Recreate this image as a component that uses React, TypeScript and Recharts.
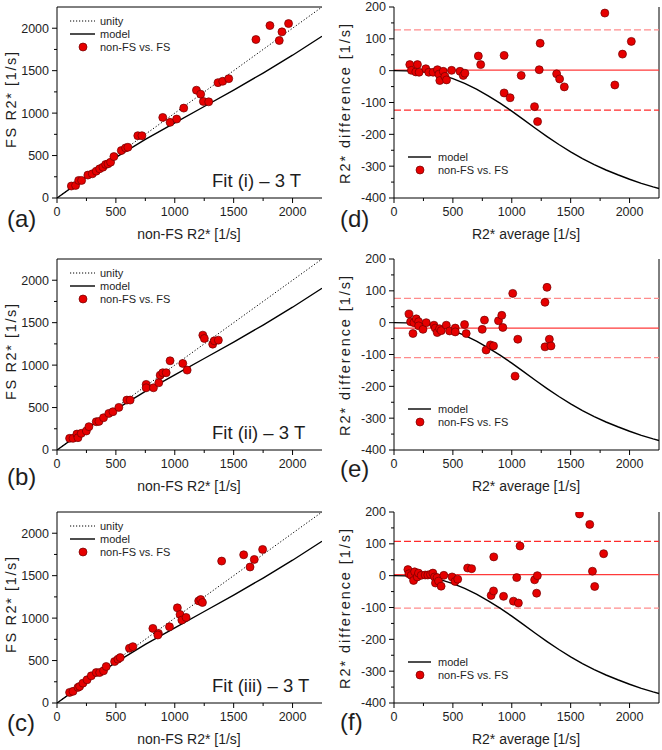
import React from "react";
import { ScatterChart, Scatter, XAxis, YAxis, ReferenceLine, Legend } from "recharts";

const FONT = "'Liberation Sans', Arial, Helvetica, sans-serif";
const TEXT = "#1e1e1e";
const RED = "#e60000";
const RED_EDGE = "#700000";

// ---- axis ticks ----
const xMajorTicks = [0, 500, 1000, 1500, 2000];
const xMinorTicks = [250, 750, 1250, 1750];
const fsMajorTicks = [0, 500, 1000, 1500, 2000];
const fsMinorTicks = [250, 750, 1250, 1750];
const diffMajorTicks = [-400, -300, -200, -100, 0, 100, 200];
const diffMinorTicks = [-350, -250, -150, -50, 50, 150];
const axisMax = 2250;
const diffMin = -400;
const diffMax = 200;

// ---- reference lines / model ----
const unityNonFS = [0, 2250];
const unityFS = [0, 2250];
const modelNonFS = [0, 250, 500, 750, 1000, 1250, 1500, 1750, 2000, 2250];
const modelFS = [0, 248, 478, 690, 886, 1078, 1272, 1472, 1682, 1905];
const baModelAvg = [0, 100, 200, 300, 400, 500, 600, 700, 800, 900, 1000, 1100, 1200, 1300, 1400, 1500, 1600, 1700, 1800, 1900, 2000, 2100, 2200, 2250];
const baModelDiff = [0, -0.5, -2, -6, -13, -25, -40, -58, -79, -102, -127, -154, -181, -207, -232, -255, -276, -295, -312, -327, -341, -354, -365, -370];

// ---- panel (a) ----
const aNonFS = [122, 158, 184, 209, 262, 300, 333, 362, 390, 413, 433, 455, 483, 546, 582, 602, 686, 721, 898, 960, 1016, 1076, 1184, 1220, 1243, 1288, 1367, 1407, 1458, 1689, 1808, 1887, 1910, 1966];
const aFS = [141, 148, 207, 207, 270, 285, 316, 344, 363, 395, 402, 422, 488, 559, 590, 598, 734, 734, 949, 891, 930, 1059, 1270, 1223, 1137, 1133, 1359, 1375, 1406, 1867, 2031, 1855, 1957, 2055];

// ---- panel (b) ----
const bNonFS = [107, 136, 169, 178, 206, 249, 271, 333, 356, 395, 440, 475, 525, 593, 621, 757, 757, 819, 864, 876, 898, 927, 960, 1068, 1105, 1238, 1251, 1322, 1336, 1370];
const bFS = [137, 137, 188, 145, 196, 224, 275, 333, 337, 380, 431, 451, 502, 588, 588, 773, 733, 733, 792, 882, 910, 910, 1051, 1020, 941, 1353, 1314, 1247, 1286, 1294];

// ---- panel (c) ----
const cNonFS = [107, 136, 178, 192, 220, 255, 291, 333, 362, 395, 418, 489, 517, 537, 615, 644, 814, 861, 856, 955, 1022, 1045, 1060, 1096, 1203, 1220, 1235, 1398, 1585, 1639, 1675, 1746];
const cFS = [125, 137, 184, 195, 234, 273, 320, 359, 359, 379, 430, 488, 516, 535, 645, 664, 879, 820, 801, 898, 1121, 1043, 977, 1008, 1203, 1219, 1184, 1672, 1746, 1602, 1691, 1809];

// ---- panel (d) ----
const dAvg = [134, 148, 185, 199, 213, 270, 295, 332, 369, 381, 389, 418, 432, 446, 489, 560, 588, 602, 716, 736, 935, 935, 986, 1080, 1193, 1219, 1233, 1241, 1381, 1406, 1446, 1790, 1875, 1940, 2015];
const dDiff = [19, 1, -4, 19, -5, 6, -5, -5, 3, -11, -31, -2, -18, -29, 1, -2, -15, -8, 46, 19, 48, -70, -85, -15, -113, -160, 3, 86, -10, -26, -51, 181, -45, 52, 92];
const dMean = 2;
const dUpper = 128;
const dLower = -124;

// ---- panel (e) ----
const eAvg = [127, 141, 161, 169, 189, 209, 209, 246, 274, 339, 350, 367, 387, 401, 444, 472, 520, 520, 599, 613, 749, 768, 782, 819, 845, 887, 915, 924, 1008, 1028, 1051, 1282, 1299, 1282, 1319, 1333];
const eDiff = [27, 3, -34, 0, 12, 3, -10, -21, 0, -8, -17, -31, -19, -25, -8, -26, -17, -29, -6, -34, -21, 8, -86, -70, -73, 6, 23, -15, 92, -168, -52, 64, 111, -76, -52, -73];
const eMean = -17;
const eUpper = 76;
const eLower = -110;

// ---- panel (f) ----
const fAvg = [118, 127, 146, 166, 175, 197, 208, 231, 265, 287, 310, 330, 344, 352, 366, 378, 400, 423, 493, 518, 541, 625, 659, 825, 845, 847, 930, 1014, 1042, 1056, 1070, 1194, 1211, 1217, 1575, 1662, 1704, 1685, 1780];
const fDiff = [19, 6, 1, -15, 12, -4, 8, 1, 2, 2, 4, 8, -4, -23, -6, -17, -33, 1, -4, -18, -11, 24, 22, -62, -48, 59, -65, -80, -6, -86, 93, -13, -55, 0, 194, 161, -34, 14, 69];
const fMean = 3;
const fUpper = 108;
const fLower = -102;

const PINK = "#ff8c8c";
const DASH_RED = "#ff2a2a";
const MEAN_RED = "#ff3a3a";

const TICK_SIZE = 5;
const MINOR_SIZE = 3;
const X_MARGIN = 4;
const Y_MARGIN = 3;
const TICK_FONT = 12.5;

function zip(xs: number[], ys: number[]) {
  return xs.map((x, i) => ({ x, y: ys[i] }));
}

const RedDot = (props: any) => {
  if (props.cx == null || props.cy == null) return <g />;
  return <circle cx={props.cx} cy={props.cy} r={4} fill={RED} stroke={RED_EDGE} strokeWidth={0.7} />;
};
const NoShape = () => <g />;

const makeXTick = (majors: number[]) => (props: any) => {
  const { x, y, payload } = props;
  const v = payload.value;
  const major = majors.includes(v);
  const axisY = y - X_MARGIN - TICK_SIZE;
  return (
    <g>
      <line x1={x} x2={x} y1={axisY} y2={axisY + (major ? TICK_SIZE : MINOR_SIZE)} stroke="#000" strokeWidth={1} />
      {major && (
        <text x={x} y={y} dy="0.71em" textAnchor="middle" fontSize={TICK_FONT} fontFamily={FONT} fill={TEXT}>{v}</text>
      )}
    </g>
  );
};

const makeYTick = (majors: number[]) => (props: any) => {
  const { x, y, payload } = props;
  const v = payload.value;
  const major = majors.includes(v);
  const axisX = x + Y_MARGIN + TICK_SIZE;
  return (
    <g>
      <line x1={axisX} x2={axisX - (major ? TICK_SIZE : MINOR_SIZE)} y1={y} y2={y} stroke="#000" strokeWidth={1} />
      {major && (
        <text x={x} y={y} dy="0.355em" textAnchor="end" fontSize={TICK_FONT} fontFamily={FONT} fill={TEXT}>{v}</text>
      )}
    </g>
  );
};

const allX = [...xMajorTicks, ...xMinorTicks].sort((a, b) => a - b);
const allFS = [...fsMajorTicks, ...fsMinorTicks].sort((a, b) => a - b);
const allDiff = [...diffMajorTicks, ...diffMinorTicks].sort((a, b) => a - b);
const XTick = makeXTick(xMajorTicks);
const FSTick = makeYTick(fsMajorTicks);
const DiffTick = makeYTick(diffMajorTicks);

function ScatterLegend() {
  return (
    <svg width={120} height={40} style={{ display: "block", overflow: "visible" }}>
      <line x1={0} x2={25} y1={0} y2={0} stroke="#000" strokeWidth={1} strokeDasharray="1.2 1.8" />
      <text x={30} y={0} dominantBaseline="central" fontSize={11} fontFamily={FONT} fill={TEXT}>unity</text>
      <line x1={0} x2={25} y1={13} y2={13} stroke="#000" strokeWidth={1.4} />
      <text x={30} y={13} dominantBaseline="central" fontSize={11} fontFamily={FONT} fill={TEXT}>model</text>
      <circle cx={13} cy={26} r={4} fill={RED} stroke={RED_EDGE} strokeWidth={0.7} />
      <text x={30} y={26} dominantBaseline="central" fontSize={11} fontFamily={FONT} fill={TEXT}>non-FS vs. FS</text>
    </svg>
  );
}

function BALegend() {
  return (
    <svg width={120} height={30} style={{ display: "block", overflow: "visible" }}>
      <line x1={0} x2={23} y1={0} y2={0} stroke="#000" strokeWidth={1.4} />
      <text x={30} y={0} dominantBaseline="central" fontSize={11} fontFamily={FONT} fill={TEXT}>model</text>
      <circle cx={12} cy={13} r={4} fill={RED} stroke={RED_EDGE} strokeWidth={0.7} />
      <text x={30} y={13} dominantBaseline="central" fontSize={11} fontFamily={FONT} fill={TEXT}>non-FS vs. FS</text>
    </svg>
  );
}

type SPProps = { nonFS: number[]; fs: number[]; letter: string; fit: string; top: number; letterY: number };

function ScatterPanel({ nonFS, fs, letter, fit, top, letterY }: SPProps) {
  const pts = zip(nonFS, fs);
  const unity = zip(unityNonFS, unityFS);
  const model = zip(modelNonFS, modelFS);
  return (
    <div style={{ position: "absolute", left: 0, top, width: 331, height: 252 }}>
      <ScatterChart width={331} height={252} margin={{ top: 7, right: 9, bottom: 24, left: 0 }}>
        <XAxis xAxisId="main" type="number" dataKey="x" domain={[0, axisMax]} ticks={allX} interval={0} allowDataOverflow height={30} tickSize={TICK_SIZE} tickMargin={X_MARGIN} tickLine={false} stroke="#000" tick={XTick} />
        <YAxis yAxisId="main" type="number" dataKey="y" domain={[0, axisMax]} ticks={allFS} interval={0} allowDataOverflow width={57} tickSize={TICK_SIZE} tickMargin={Y_MARGIN} tickLine={false} stroke="#000" tick={FSTick} />
        <ReferenceLine xAxisId="main" yAxisId="main" y={axisMax} stroke="#000" strokeWidth={1} />
        <Scatter name="unity" xAxisId="main" yAxisId="main" data={unity} line={{ stroke: "#000", strokeWidth: 1, strokeDasharray: "1.2 2" }} shape={NoShape} isAnimationActive={false} />
        <Scatter name="model" xAxisId="main" yAxisId="main" data={model} line={{ stroke: "#000", strokeWidth: 1.4 }} shape={NoShape} isAnimationActive={false} />
        <Scatter name="non-FS vs. FS" xAxisId="main" yAxisId="main" data={pts} shape={RedDot} isAnimationActive={false} />
        <Legend layout="vertical" align="center" verticalAlign="middle" wrapperStyle={{ left: 70, top: 21, width: 120, height: 40 }} content={() => <ScatterLegend />} />
      </ScatterChart>
      <svg width={331} height={252} style={{ position: "absolute", left: 0, top: 0, pointerEvents: "none", overflow: "visible" }}>
        <text x={7} y={letterY} fontSize={24} fontFamily={FONT} fill={TEXT}>{letter}</text>
        <text x={189} y={239} textAnchor="middle" fontSize={14} fontFamily={FONT} fill={TEXT}>non-FS R2* [1/s]</text>
        <text x={11} y={100} transform="rotate(-90 11 100)" textAnchor="middle" dominantBaseline="central" fontSize={14.5} fontFamily={FONT} fill={TEXT} textLength={96} lengthAdjust="spacing">FS R2* [1/s]</text>
        <text x={212} y={187} fontSize={18.5} fontFamily={FONT} fill={TEXT}>{fit}</text>
      </svg>
    </div>
  );
}

type BAProps = {
  avg: number[]; diff: number[]; mean: number; upper: number; lower: number;
  upperColor: string; lowerColor: string; letter: string; top: number; letterY: number;
};

function BAPanel({ avg, diff, mean, upper, lower, upperColor, lowerColor, letter, top, letterY }: BAProps) {
  const pts = zip(avg, diff);
  const model = zip(baModelAvg, baModelDiff);
  return (
    <div style={{ position: "absolute", left: 331, top, width: 331, height: 252 }}>
      <ScatterChart width={331} height={252} margin={{ top: 7, right: 3, bottom: 24, left: 0 }}>
        <XAxis xAxisId="main" type="number" dataKey="x" domain={[0, axisMax]} ticks={allX} interval={0} allowDataOverflow height={30} tickSize={TICK_SIZE} tickMargin={X_MARGIN} tickLine={false} stroke="#000" tick={XTick} />
        <YAxis yAxisId="main" type="number" dataKey="y" domain={[diffMin, diffMax]} ticks={allDiff} interval={0} allowDataOverflow width={63} tickSize={TICK_SIZE} tickMargin={Y_MARGIN} tickLine={false} stroke="#000" tick={DiffTick} />
        <ReferenceLine xAxisId="main" yAxisId="main" x={axisMax} stroke="#000" strokeWidth={1} />
        <ReferenceLine xAxisId="main" yAxisId="main" y={upper} stroke={upperColor} strokeWidth={1.2} strokeDasharray="7 3" />
        <ReferenceLine xAxisId="main" yAxisId="main" y={lower} stroke={lowerColor} strokeWidth={1.2} strokeDasharray="7 3" />
        <ReferenceLine xAxisId="main" yAxisId="main" y={mean} stroke={MEAN_RED} strokeWidth={1.2} />
        <Scatter name="model" xAxisId="main" yAxisId="main" data={model} line={{ stroke: "#000", strokeWidth: 1.4 }} shape={NoShape} isAnimationActive={false} />
        <Scatter name="non-FS vs. FS" xAxisId="main" yAxisId="main" data={pts} shape={RedDot} isAnimationActive={false} />
        <Legend layout="vertical" align="center" verticalAlign="middle" wrapperStyle={{ left: 77, top: 157, width: 120, height: 30 }} content={() => <BALegend />} />
      </ScatterChart>
      <svg width={331} height={252} style={{ position: "absolute", left: 0, top: 0, pointerEvents: "none", overflow: "visible" }}>
        <text x={9} y={letterY} fontSize={24} fontFamily={FONT} fill={TEXT}>{letter}</text>
        <text x={195} y={239} textAnchor="middle" fontSize={14} fontFamily={FONT} fill={TEXT}>R2* average [1/s]</text>
        <text x={14} y={104} transform="rotate(-90 14 104)" textAnchor="middle" dominantBaseline="central" fontSize={14.5} fontFamily={FONT} fill={TEXT} textLength={160} lengthAdjust="spacing">R2* difference [1/s]</text>
      </svg>
    </div>
  );
}

export default function App() {
  return (
    <div style={{ position: "absolute", left: 0, top: 0, width: 662, height: 750, background: "#fff", overflow: "hidden" }}>
      <ScatterPanel nonFS={aNonFS} fs={aFS} letter="(a)" fit="Fit (i) – 3 T" top={0} letterY={227} />
      <ScatterPanel nonFS={bNonFS} fs={bFS} letter="(b)" fit="Fit (ii) – 3 T" top={252} letterY={233} />
      <ScatterPanel nonFS={cNonFS} fs={cFS} letter="(c)" fit="Fit (iii) – 3 T" top={505} letterY={226} />
      <BAPanel avg={dAvg} diff={dDiff} mean={dMean} upper={dUpper} lower={dLower} upperColor={PINK} lowerColor={DASH_RED} letter="(d)" top={0} letterY={227} />
      <BAPanel avg={eAvg} diff={eDiff} mean={eMean} upper={eUpper} lower={eLower} upperColor={PINK} lowerColor={PINK} letter="(e)" top={252} letterY={225} />
      <BAPanel avg={fAvg} diff={fDiff} mean={fMean} upper={fUpper} lower={fLower} upperColor={DASH_RED} lowerColor={PINK} letter="(f)" top={505} letterY={225} />
    </div>
  );
}
